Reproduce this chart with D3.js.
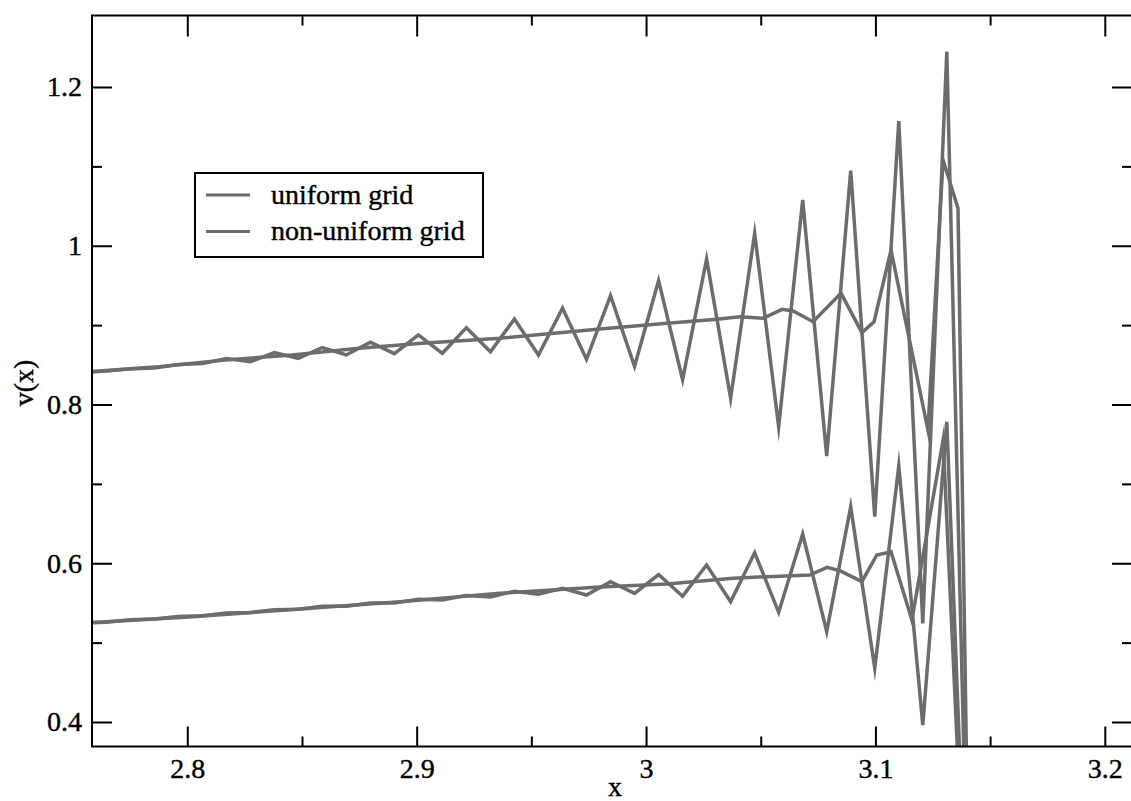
<!DOCTYPE html>
<html>
<head>
<meta charset="utf-8">
<script src="https://cdn.jsdelivr.net/npm/d3@7"></script>
<style>
  html, body { margin: 0; padding: 0; background: #fff; overflow: hidden; }
  svg { display: block; }
  svg text { font-family: "Liberation Serif", "DejaVu Serif", serif; stroke: #000; stroke-width: 0.4px; }
</style>
</head>
<body>
<div id="chartArea"></div>
<script>
// uniform grid points x_k = k*pi/300, k = 263..300
const uniformX = [
  2.75413, 2.7646, 2.77507, 2.78555, 2.79602, 2.80649, 2.81696, 2.82743,
  2.83791, 2.84838, 2.85885, 2.86932, 2.87979, 2.89027, 2.90074, 2.91121,
  2.92168, 2.93215, 2.94263, 2.9531, 2.96357, 2.97404, 2.98451, 2.99499,
  3.00546, 3.01593, 3.0264, 3.03687, 3.04735, 3.05782, 3.06829, 3.07876,
  3.08923, 3.09971, 3.11018, 3.12065, 3.13112, 3.14159
]
const uniformUpper = [
  0.8406, 0.8422, 0.8451, 0.846, 0.8505, 0.8515, 0.858, 0.8539,
  0.8653, 0.8582, 0.8718, 0.8624, 0.8784, 0.8641, 0.8876, 0.8645,
  0.8968, 0.8665, 0.9077, 0.8624, 0.9212, 0.8569, 0.9371, 0.8482,
  0.956, 0.8314, 0.9833, 0.8078, 1.0157, 0.772, 1.0576, 0.7351,
  1.0946, 0.6587, 1.1572, 0.5243, 1.2445, 0.0
]
const uniformLower = [
  0.5249, 0.5256, 0.5289, 0.5298, 0.533, 0.5338, 0.5372, 0.538,
  0.5414, 0.5421, 0.5458, 0.5459, 0.55, 0.55, 0.5545, 0.5538,
  0.5595, 0.5575, 0.5648, 0.5609, 0.5684, 0.56, 0.5768, 0.5621,
  0.5858, 0.5585, 0.5978, 0.5516, 0.6133, 0.5382, 0.6369, 0.5138,
  0.6712, 0.4677, 0.7225, 0.3962, 0.7783, 0.0
]

// non-uniform grid
const nonUniformUpperX = [
  2.7541, 2.7877, 2.8165, 2.8456, 2.8749, 2.9023, 2.9363, 2.9799,
  3.0091, 3.0309, 3.0409, 3.051, 3.0593, 3.0641, 3.0728, 3.085,
  3.0941, 3.0994, 3.1068, 3.1229, 3.1295, 3.136, 3.1416
]
const nonUniformUpper = [
  0.8405, 0.8476, 0.8561, 0.8624, 0.8708, 0.8771, 0.8834, 0.8951,
  0.9023, 0.9073, 0.9106, 0.9086, 0.9199, 0.9178, 0.9043, 0.9401,
  0.8905, 0.9043, 0.9946, 0.7679, 1.108, 1.0472, 0.0
]
const nonUniformLowerX = [
  2.7541, 2.7991, 2.8492, 2.8928, 2.9363, 2.9799, 3.0091, 3.0379,
  3.0527, 3.0714, 3.0789, 3.0845, 3.0941, 3.1006, 3.1068, 3.1159,
  3.1295, 3.1416
]
const nonUniformLower = [
  0.5246, 0.5319, 0.5424, 0.5516, 0.5621, 0.5701, 0.5739, 0.581,
  0.5831, 0.5852, 0.5949, 0.5906, 0.5768, 0.6104, 0.6145, 0.5285,
  0.7553, 0.0
]

const xMajorTicks = [2.8, 2.9, 3, 3.1, 3.2]
const xMinorTicks = [2.85, 2.95, 3.05, 3.15]
const yMajorTicks = [0.4, 0.6, 0.8, 1, 1.2]
const yMinorTicks = [0.5, 0.7, 0.9, 1.1]
const legendLabels = ['uniform grid', 'non-uniform grid']

const width = 1131
const height = 801
const margin = { top: 15.5, right: -1, bottom: 54.5, left: 92 }
const innerWidth = width - margin.left - margin.right
const innerHeight = height - margin.top - margin.bottom
const lineColor = '#6c6c6c'
const fontSize = 28
const serif = '"Liberation Serif", "DejaVu Serif", serif'

const svg = d3
  .select('#chartArea')
  .append('svg')
  .attr('width', width)
  .attr('height', height)
  .style('overflow', 'hidden')

const xScale = d3.scaleLinear().domain([2.75845, 3.21186]).range([0, innerWidth])
const yScale = d3.scaleLinear().domain([0.36913, 1.29008]).range([innerHeight, 0])

const plotG = svg
  .append('g')
  .attr('transform', `translate(${margin.left},${margin.top})`)

plotG
  .append('clipPath')
  .attr('id', 'plotClip')
  .append('rect')
  .attr('width', innerWidth)
  .attr('height', innerHeight)

// curves
const series = [
  { xs: uniformX, ys: uniformUpper },
  { xs: nonUniformUpperX, ys: nonUniformUpper },
  { xs: uniformX, ys: uniformLower },
  { xs: nonUniformLowerX, ys: nonUniformLower }
]

const line = d3
  .line()
  .x(d => xScale(d[0]))
  .y(d => yScale(d[1]))

plotG
  .append('g')
  .attr('clip-path', 'url(#plotClip)')
  .selectAll('path')
  .data(series)
  .join('path')
  .attr('d', s => line(s.xs.map((x, i) => [x, s.ys[i]])))
  .attr('fill', 'none')
  .attr('stroke', lineColor)
  .attr('stroke-width', 3.5)
  .attr('stroke-linejoin', 'miter')
  .attr('stroke-miterlimit', 10)

// axes, ticks point inward on all four sides
const fmt = d => String(+d.toFixed(2))

const styleAxis = g => {
  g.attr('font-family', null).attr('font-size', null)
  g.select('.domain').remove()
  g.selectAll('line').attr('stroke', '#000').attr('stroke-width', 2)
  g.selectAll('text')
    .style('font-family', serif)
    .style('font-size', fontSize + 'px')
    .attr('fill', '#000')
}

plotG
  .append('g')
  .attr('transform', `translate(0,${innerHeight})`)
  .call(d3.axisBottom(xScale).tickValues(xMajorTicks).tickSize(-20).tickPadding(11.6).tickFormat(fmt))
  .call(styleAxis)
plotG
  .append('g')
  .attr('transform', `translate(0,${innerHeight})`)
  .call(d3.axisBottom(xScale).tickValues(xMinorTicks).tickSize(-10).tickFormat(''))
  .call(styleAxis)
plotG
  .append('g')
  .call(d3.axisTop(xScale).tickValues(xMajorTicks).tickSize(-21).tickFormat(''))
  .call(styleAxis)
plotG
  .append('g')
  .call(d3.axisTop(xScale).tickValues(xMinorTicks).tickSize(-10).tickFormat(''))
  .call(styleAxis)

plotG
  .append('g')
  .call(d3.axisLeft(yScale).tickValues(yMajorTicks).tickSize(-20).tickPadding(10).tickFormat(fmt))
  .call(styleAxis)
plotG
  .append('g')
  .call(d3.axisLeft(yScale).tickValues(yMinorTicks).tickSize(-10).tickFormat(''))
  .call(styleAxis)
plotG
  .append('g')
  .attr('transform', `translate(${innerWidth},0)`)
  .call(d3.axisRight(yScale).tickValues(yMajorTicks).tickSize(-20).tickFormat(''))
  .call(styleAxis)
plotG
  .append('g')
  .attr('transform', `translate(${innerWidth},0)`)
  .call(d3.axisRight(yScale).tickValues(yMinorTicks).tickSize(-10).tickFormat(''))
  .call(styleAxis)

// frame
plotG
  .append('rect')
  .attr('width', innerWidth)
  .attr('height', innerHeight)
  .attr('fill', 'none')
  .attr('stroke', '#000')
  .attr('stroke-width', 2)

// axis titles
svg
  .append('text')
  .attr('x', 615)
  .attr('y', 796)
  .attr('text-anchor', 'middle')
  .style('font-family', serif)
  .style('font-size', fontSize + 'px')
  .text('x')

svg
  .append('text')
  .attr('transform', 'translate(33,383) rotate(-90)')
  .attr('text-anchor', 'middle')
  .style('font-family', serif)
  .style('font-size', fontSize + 'px')
  .text('v(x)')

// legend
const legendG = svg.append('g').attr('transform', 'translate(195,173)')

legendG
  .append('rect')
  .attr('width', 288)
  .attr('height', 84)
  .attr('fill', '#fff')
  .attr('stroke', '#000')
  .attr('stroke-width', 2)

const legendItem = legendG
  .selectAll('g')
  .data(legendLabels)
  .join('g')
  .attr('transform', (d, i) => `translate(0,${22 + i * 36.5})`)

legendItem
  .append('line')
  .attr('x1', 11)
  .attr('x2', 55)
  .attr('stroke', lineColor)
  .attr('stroke-width', 3)

legendItem
  .append('text')
  .attr('x', 76)
  .attr('y', 8.5)
  .style('font-family', serif)
  .style('font-size', fontSize + 'px')
  .attr('fill', '#000')
  .text(d => d)
</script>
</body>
</html>
